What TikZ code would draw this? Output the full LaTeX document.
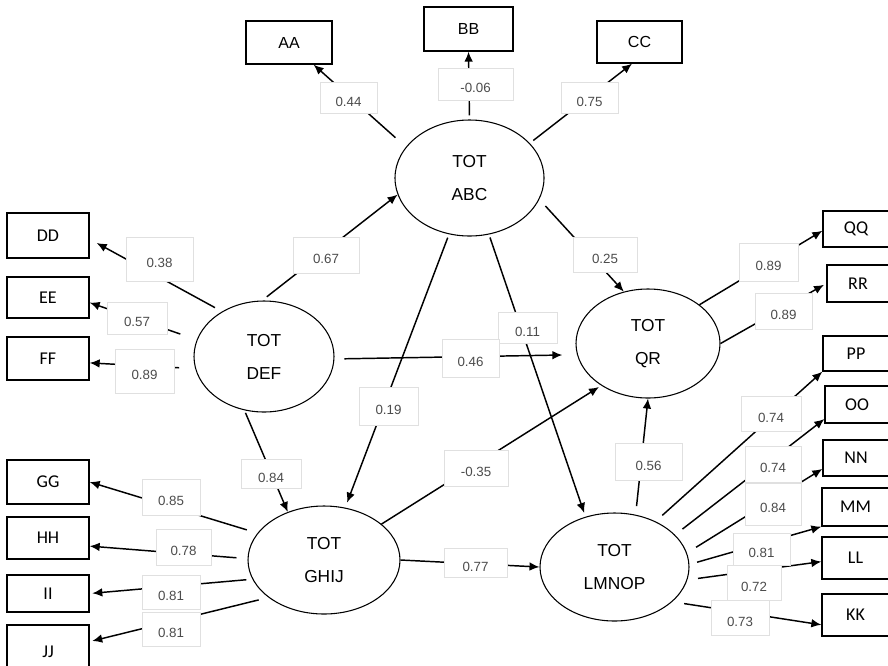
\documentclass[tikz,border=0pt]{standalone}
\usepackage{fontspec}
\setmainfont{Liberation Sans}
\newfontfamily\boxfont{Carlito}
\usetikzlibrary{shapes.geometric,arrows.meta}
\tikzset{
  obs/.style={draw=black, line width=1pt, rectangle, inner sep=0pt, font=\fontsize{12}{14}\selectfont},
  obsc/.style={obs, font=\boxfont\fontsize{13.5}{16}\selectfont},
  lat/.style={draw=black, line width=0.8pt, ellipse, inner sep=0pt, align=center, font=\fontsize{13}{24.75}\selectfont},
  lbl/.style={draw=black!12, fill=white, line width=0.6pt, inner sep=0pt, text=black!70,
    font=\fontsize{10}{12}\selectfont, text height=13.2pt, text depth=0pt,
    minimum width=43.5pt, minimum height=25.5pt},
  arr/.style={-{Latex[length=7.5pt,width=6.5pt]}, line width=1.1pt}
}
\begin{document}
\begin{tikzpicture}[x=0.75pt,y=-0.75pt]
\useasboundingbox (0,0) rectangle (888,665);
% observed boxes
\node[obs, minimum width=64.5pt, minimum height=32.25pt] (aa) at (289,42.5) {AA};
\node[obs, minimum width=66.75pt, minimum height=33pt] (bb) at (468.5,29) {BB};
\node[obs, minimum width=63.75pt, minimum height=31.5pt] (cc) at (639.5,42) {CC};
\node[obsc, minimum width=61.5pt, minimum height=33.75pt] (dd) at (48,235.5) {DD};
\node[obsc, minimum width=61.5pt, minimum height=30.75pt] (ee) at (48,297.5) {EE};
\node[obsc, minimum width=61.5pt, minimum height=32.25pt] (ff) at (48,358.5) {FF};
\node[obsc, minimum width=61.5pt, minimum height=33pt] (gg) at (48,482) {GG};
\node[obsc, minimum width=61.5pt, minimum height=31.5pt] (hh) at (48,538) {HH};
\node[obsc, minimum width=61.5pt, minimum height=27.75pt] (ii) at (48,593.5) {II};
\node[obsc, minimum width=61.5pt, minimum height=40.5pt] (jj) at (48,652) {JJ};
\node[obsc, minimum width=49.5pt, minimum height=27pt] (qq) at (856,229) {QQ};
\node[obsc, minimum width=46.5pt, minimum height=27.75pt] (rr) at (858,283.5) {RR};
\node[obsc, minimum width=49.5pt, minimum height=26.25pt] (pp) at (856,353.5) {PP};
\node[obsc, minimum width=48pt, minimum height=27.75pt] (oo) at (857,404.5) {OO};
\node[obsc, minimum width=49.5pt, minimum height=27pt] (nn) at (856,458) {NN};
\node[obsc, minimum width=50.25pt, minimum height=28.5pt] (mm) at (855.5,507) {MM};
\node[obsc, minimum width=50.25pt, minimum height=31.5pt] (ll) at (855.5,558) {LL};
\node[obsc, minimum width=50.25pt, minimum height=31.5pt] (kk) at (855.5,615) {KK};
% latent ellipses
\node[lat, minimum width=111.75pt, minimum height=87pt] (abc) at (469.5,178) {TOT\\ABC};
\node[lat, minimum width=105pt, minimum height=83.25pt] (def) at (264,356.5) {TOT\\DEF};
\node[lat, minimum width=108pt, minimum height=81.75pt] (qr) at (648,343.5) {TOT\\QR};
\node[lat, minimum width=114pt, minimum height=81pt] (ghij) at (324,560) {TOT\\GHIJ};
\node[lat, minimum width=111.75pt, minimum height=81pt] (lmnop) at (614.5,567) {TOT\\LMNOP};
% connectors
\draw[arr, shorten <=10.5pt] (abc.154.8) -- (aa.-42);
\draw[arr, shorten <=3pt] (abc.north) -- (bb.south);
\draw[arr, shorten <=3.3pt] (abc.30.2) -- (cc.-109);
\draw[arr, shorten <=6.75pt] (abc.-17.9) -- (qr.115.5);
\draw[arr, shorten <=2.7pt, shorten >=4pt] (abc.-110.9) -- (ghij.68);
\draw[arr, shorten <=2.3pt, shorten >=3pt] (abc.-71.7) -- (lmnop.120.7);
\draw[arr, shorten <=6pt, shorten >=6pt] (def.133) -- (dd.-5);
\draw[arr, shorten <=13pt] (def.166.3) -- (ee.-7);
\draw[arr, shorten <=12pt] (def.-170.2) -- (ff.-6);
\draw[arr, shorten <=4.5pt] (def.92.8) -- (abc.193.7);
\draw[arr, shorten <=7.5pt, shorten >=11pt] (def.-2) -- (qr.189);
\draw[arr, shorten <=2pt] (def.-110.7) -- (ghij.127);
\draw[arr, shorten <=8.3pt] (ghij.158.7) -- (gg.east);
\draw[arr, shorten <=8.3pt] (ghij.179) -- (hh.-11);
\draw[arr, shorten <=4.5pt, shorten >=2pt] (ghij.-165.4) -- (ii.east);
\draw[arr, shorten <=7.5pt, shorten >=2pt] (ghij.-146.7) -- (jj.14);
\draw[arr, shorten >=2pt] (ghij.32.5) -- (qr.222.2);
\draw[arr] (ghij.east) -- (lmnop.west);
\draw[arr, shorten <=6.5pt] (lmnop.68.6) -- (qr.south);
\draw[arr, shorten <=6.75pt] (lmnop.48.2) -- (pp.south west);
\draw[arr, shorten <=7pt] (lmnop.28.7) -- (oo.204);
\draw[arr, shorten <=8pt] (lmnop.11) -- (nn.198.4);
\draw[arr, shorten <=6pt] (lmnop.2.1) -- (mm.south west);
\draw[arr, shorten <=8pt] (lmnop.-10.3) -- (ll.186.8);
\draw[arr, shorten <=9pt] (lmnop.-31.3) -- (kk.196.6);
\draw[arr] (qr.37.8) -- (qq.183.5);
\draw[arr, shorten >=2pt] (qr.east) -- (rr.west);
% coefficient labels
\node[lbl, minimum width=42.75pt, minimum height=23.25pt] (l1) at (348.5,97.5) {0.44};
\node[lbl, minimum width=56.25pt, minimum height=24pt] (l2) at (475.5,84) {-0.06};
\node[lbl, minimum width=42.75pt, minimum height=23.25pt] (l3) at (589.5,97.5) {0.75};
\node[lbl, minimum width=50.25pt, minimum height=33pt] (l4) at (159.5,259) {0.38};
\node[lbl, minimum width=45pt, minimum height=24pt] (l5) at (137,318) {0.57};
\node[lbl, minimum width=44.25pt, minimum height=33pt] (l6) at (144.5,371) {0.89};
\node[lbl, minimum width=49.5pt, minimum height=27pt] (l7) at (326,255) {0.67};
\node[lbl, minimum width=48pt, minimum height=26.25pt] (l8) at (605,254.5) {0.25};
\node[lbl, minimum width=44.25pt, minimum height=28.5pt] (l9) at (768.5,262) {0.89};
\node[lbl, minimum width=42.75pt, minimum height=27pt] (l10) at (783.5,311) {0.89};
\node[lbl, minimum width=44.25pt, minimum height=23.25pt] (l12) at (527.5,327.5) {0.11};
\node[lbl, minimum width=42.75pt, minimum height=28.5pt] (l11) at (470.5,358) {0.46};
\node[lbl, minimum width=44.25pt, minimum height=28.5pt] (l13) at (388.5,406) {0.19};
\node[lbl, minimum width=45pt, minimum height=21.75pt] (l14) at (271,473.5) {0.84};
\node[lbl, minimum width=48pt, minimum height=27pt] (l15) at (476,468) {-0.35};
\node[lbl, minimum width=50.25pt, minimum height=27.75pt] (l16) at (648.5,461.5) {0.56};
\node[lbl, minimum width=47.25pt, minimum height=21.75pt] (l17) at (475.5,562.5) {0.77};
\node[lbl, minimum width=45pt, minimum height=26.25pt] (l18) at (771,413.5) {0.74};
\node[lbl, minimum width=42pt, minimum height=27pt] (l19) at (773,464) {0.74};
\node[lbl, minimum width=42pt, minimum height=31.5pt] (l20) at (773,504) {0.84};
\node[lbl, minimum width=42.75pt, minimum height=24pt] (l21) at (761.5,549) {0.81};
\node[lbl, minimum width=40.5pt, minimum height=26.25pt] (l22) at (754,582.5) {0.72};
\node[lbl, minimum width=43.5pt, minimum height=26.25pt] (l23) at (740,617.5) {0.73};
\node[lbl, minimum width=43.5pt, minimum height=27pt] (l24) at (171,497) {0.85};
\node[lbl, minimum width=41.25pt, minimum height=27pt] (l25) at (183.5,547) {0.78};
\node[lbl, minimum width=43.5pt, minimum height=25.5pt] (l26) at (171,592) {0.81};
\node[lbl, minimum width=43.5pt, minimum height=25.5pt] (l27) at (171,629) {0.81};
\end{tikzpicture}
\end{document}
